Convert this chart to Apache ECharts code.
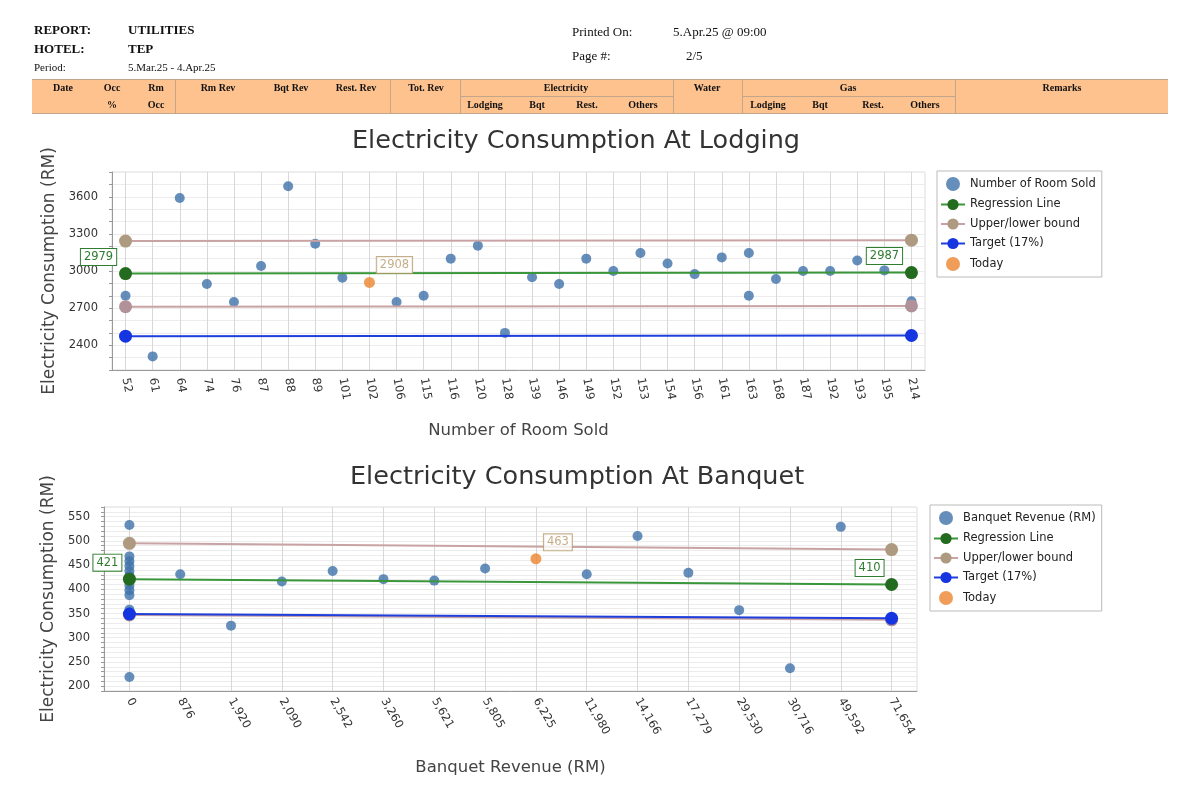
<!DOCTYPE html>
<html>
<head>
<meta charset="utf-8">
<script src="https://cdn.jsdelivr.net/npm/echarts@6.0.0/dist/echarts.min.js"></script>
<style>
  body { margin: 0; background: #fff; }
  #page { position: relative; width: 1200px; height: 800px; overflow: hidden; }
  #main { position: absolute; left: 0; top: 0; width: 1200px; height: 800px; }
  .h { position: absolute; font-family: "Liberation Serif", serif; white-space: nowrap; z-index: 2; color: #111; }
  .big { font-size: 13px; font-weight: bold; }
  .reg { font-size: 13px; }
  .sm { font-size: 11px; }
  .c { font-size: 10px; font-weight: bold; width: 90px; text-align: center; line-height: 12px; }
  #band { position: absolute; left: 32px; top: 79px; width: 1136px; height: 33px; background: #fec28e;
          border-top: 1px solid #c2a58a; border-bottom: 1px solid #c2a58a; z-index: 1; }
  .vl { position: absolute; top: 79px; width: 1px; height: 35px; background: #c2a58a; z-index: 1; }
  .hl { position: absolute; top: 96px; height: 1px; background: #c2a58a; z-index: 1; }
</style>
</head>
<body>
<div id="page">
  <div id="main"></div>
  <div class="h big" style="left:34px;top:22px">REPORT:</div>
  <div class="h big" style="left:128px;top:22px">UTILITIES</div>
  <div class="h big" style="left:34px;top:41px">HOTEL:</div>
  <div class="h big" style="left:128px;top:41px">TEP</div>
  <div class="h sm" style="left:34px;top:61px">Period:</div>
  <div class="h sm" style="left:128px;top:61px">5.Mar.25 - 4.Apr.25</div>
  <div class="h reg" style="left:572px;top:24px">Printed On:</div>
  <div class="h reg" style="left:673px;top:24px">5.Apr.25 @ 09:00</div>
  <div class="h reg" style="left:572px;top:48px">Page #:</div>
  <div class="h reg" style="left:686px;top:48px">2/5</div>
  <div id="band"></div>
  <div class="vl" style="left:175px"></div>
  <div class="vl" style="left:390px"></div>
  <div class="vl" style="left:460px"></div>
  <div class="vl" style="left:673px"></div>
  <div class="vl" style="left:742px"></div>
  <div class="vl" style="left:955px"></div>
  <div class="hl" style="left:460px;width:213px"></div>
  <div class="hl" style="left:742px;width:213px"></div>
</div>
<script>
// header table captions: [text, centre x, row]
var headCells = [
  ['Date', 63, 0], ['Occ', 112, 0], ['Rm', 156, 0], ['Rm Rev', 218, 0], ['Bqt Rev', 291, 0],
  ['Rest. Rev', 356, 0], ['Tot. Rev', 426, 0], ['Electricity', 566, 0], ['Water', 707, 0],
  ['Gas', 848, 0], ['Remarks', 1062, 0],
  ['%', 112, 1], ['Occ', 156, 1], ['Lodging', 485, 1], ['Bqt', 537, 1], ['Rest.', 587, 1],
  ['Others', 643, 1], ['Lodging', 768, 1], ['Bqt', 820, 1], ['Rest.', 873, 1], ['Others', 925, 1]
];
headCells.forEach(function (c) {
  var d = document.createElement('div');
  d.className = 'h c';
  d.textContent = c[0];
  d.style.left = (c[1] - 45) + 'px';
  d.style.top = (c[2] ? 99 : 82) + 'px';
  document.getElementById('page').appendChild(d);
});

/* LODGING */
var roomCats = ['52','61','64','74','76','87','88','89','101','102','106','115','116','120','128',
  '139','146','149','152','153','154','156','161','163','168','187','192','193','195','214'];
var roomSold = ['52','61','64','74','76','87','88','89','101','106','115','116','120','128','139',
  '146','149','152','153','154','156','161','163','163','168','187','192','193','195','214'];
var lodgingUse = [2800,2310,3590,2895,2750,3040,3685,3220,2945,2750,2800,3100,3205,2500,2950,
  2895,3100,3000,3145,3060,2975,3110,3145,2800,2935,3000,3000,3085,3005,2755];
var lodgingToday = ['102', 2908];
var lodgingReg = [2979, 2987];
var lodgingUpper = [3242, 3249];
var lodgingLower = [2712, 2718];
var lodgingTarget = [2473, 2479];

/* BANQUET */
var bqtCats = ['0','876','1,920','2,090','2,542','3,260','5,621','5,805','6,225','11,980','14,166',
  '17,279','29,530','30,716','49,592','71,654'];
var bqtRev = ['0','0','0','0','0','0','0','0','0','0','0','0','0','876','1,920','2,090','2,542',
  '3,260','5,621','5,805','11,980','14,166','17,279','29,530','30,716','49,592'];
var bqtUse = [533,468,458,448,438,428,418,408,398,388,358,352,219,431,325,416,438,421,418,443,
  431,510,434,357,237,529];
var bqtToday = ['6,225', 463];
var bqtReg = [421, 410];
var bqtUpper = [495, 482];
var bqtLower = [347, 337];
var bqtTarget = [349, 340];

var font = 'DejaVu Sans';

function ends(cats, vals) {
  return [[cats[0], vals[0]], [cats[cats.length - 1], vals[1]]];
}
function boxLabel(color, offset) {
  return {
    show: true, position: 'top', offset: offset, formatter: function (p) { return p.value[1]; },
    backgroundColor: '#fff', borderColor: color, borderWidth: 1, padding: [2, 3],
    color: color, fontSize: 11.5, fontFamily: font
  };
}
function lineSeries(name, idx, data, lineColor, dotColor, label, z) {
  return {
    name: name, type: 'line', xAxisIndex: idx, yAxisIndex: idx, data: data,
    symbol: 'circle', symbolSize: 13, z: z,
    lineStyle: { color: lineColor, width: 2 },
    itemStyle: { color: dotColor },
    label: label || { show: false }
  };
}
function catAxis(idx, cats, name, rotate, gap) {
  return {
    type: 'category', gridIndex: idx, data: cats, name: name, nameLocation: 'middle', nameGap: gap,
    nameTextStyle: { fontSize: 16.5, color: '#444', fontFamily: font },
    axisLine: { lineStyle: { color: '#999' } },
    axisTick: { alignWithLabel: true, length: 4, lineStyle: { color: '#999' } },
    axisLabel: { interval: 0, rotate: rotate, fontSize: 11.5, color: '#333', fontFamily: font },
    splitLine: { show: true, alignWithLabel: true, lineStyle: { color: '#d8d8d8' } }
  };
}
function valAxis(idx, min, max, step, every, gap) {
  return {
    type: 'value', gridIndex: idx, min: min, max: max, interval: step,
    name: 'Electricity Consumption (RM)', nameLocation: 'middle', nameGap: gap,
    nameTextStyle: { fontSize: 17, color: '#444', fontFamily: font },
    axisLine: { show: true, lineStyle: { color: '#999' } },
    axisTick: { show: true, length: 3, lineStyle: { color: '#999' } },
    axisLabel: { fontSize: 11.5, color: '#333', fontFamily: font, margin: 14,
      formatter: function (v) { return v % every === 0 ? v : ''; } },
    splitLine: { lineStyle: { color: '#ececec' } }
  };
}
function legendBox(left, top, first) {
  return {
    orient: 'vertical', left: left, top: top, itemGap: 7.5, itemWidth: 24, itemHeight: 14,
    borderColor: '#bbb', borderWidth: 1, padding: [6, 6, 6, 3],
    textStyle: { fontSize: 11.5, color: '#222', fontFamily: font },
    data: [first, 'Regression Line', 'Upper/lower bound', 'Target (17%)', 'Today']
  };
}

var green = '#2f7d2f', tan = '#b59a6c';
var myChart = echarts.init(document.getElementById('main'), null, { renderer: 'canvas' });
var option = {
  animation: false,
  textStyle: { fontFamily: font },
  title: [
    { text: 'Electricity Consumption At Lodging', left: 347, top: 123,
      textStyle: { fontSize: 25.5, fontWeight: 'normal', color: '#333', fontFamily: font } },
    { text: 'Electricity Consumption At Banquet', left: 345, top: 459,
      textStyle: { fontSize: 25.5, fontWeight: 'normal', color: '#333', fontFamily: font } }
  ],
  legend: [
    legendBox(937, 171, 'Number of Room Sold'),
    legendBox(930, 505, 'Banquet Revenue (RM)')
  ],
  grid: [
    { left: 112, top: 172, width: 813, height: 198, show: true, borderColor: '#ddd' },
    { left: 104, top: 507, width: 813, height: 184, show: true, borderColor: '#ddd' }
  ],
  xAxis: [
    catAxis(0, roomCats, 'Number of Room Sold', -80, 52),
    catAxis(1, bqtCats, 'Banquet Revenue (RM)', -60, 68)
  ],
  yAxis: [
    valAxis(0, 2200, 3800, 100, 300, 53),
    valAxis(1, 190, 570, 10, 50, 45)
  ],
  series: [
    { name: 'Number of Room Sold', type: 'scatter', xAxisIndex: 0, yAxisIndex: 0, symbolSize: 10,
      itemStyle: { color: '#3f72aa' }, z: 2,
      data: roomSold.map(function (c, i) { return [c, lodgingUse[i]]; }) },
    lineSeries('Upper/lower bound', 0, ends(roomCats, lodgingUpper), '#c9a3a3', '#ad9a80', null, 3),
    lineSeries('Upper/lower bound', 0, ends(roomCats, lodgingLower), '#c9a3a3', '#b2929a', null, 3),
    lineSeries('Regression Line', 0, ends(roomCats, lodgingReg), '#3a963a', '#236b1e',
      boxLabel(green, [-27, 3]), 4),
    lineSeries('Target (17%)', 0, ends(roomCats, lodgingTarget), '#1f3fdd', '#1535e0', null, 4),
    { name: 'Today', type: 'scatter', xAxisIndex: 0, yAxisIndex: 0, symbolSize: 11, z: 5,
      itemStyle: { color: '#eb8530' }, data: [lodgingToday], label: boxLabel(tan, [25, 1]) },

    { name: 'Banquet Revenue (RM)', type: 'scatter', xAxisIndex: 1, yAxisIndex: 1, symbolSize: 10,
      itemStyle: { color: '#3f72aa' }, z: 2,
      data: bqtRev.map(function (c, i) { return [c, bqtUse[i]]; }) },
    lineSeries('Upper/lower bound', 1, ends(bqtCats, bqtUpper), '#c9a3a3', '#ad9a80', null, 3),
    lineSeries('Upper/lower bound', 1, ends(bqtCats, bqtLower), '#c9a3a3', '#b2929a', null, 3),
    lineSeries('Regression Line', 1, ends(bqtCats, bqtReg), '#3a963a', '#236b1e',
      boxLabel(green, [-22, 3]), 4),
    lineSeries('Target (17%)', 1, ends(bqtCats, bqtTarget), '#1f3fdd', '#1535e0', null, 4),
    { name: 'Today', type: 'scatter', xAxisIndex: 1, yAxisIndex: 1, symbolSize: 11, z: 5,
      itemStyle: { color: '#eb8530' }, data: [bqtToday], label: boxLabel(tan, [22, 2]) }
  ]
};

if (option && typeof option === 'object') {
  myChart.setOption(option);
}
window.addEventListener('resize', myChart.resize);
</script>
</body>
</html>
